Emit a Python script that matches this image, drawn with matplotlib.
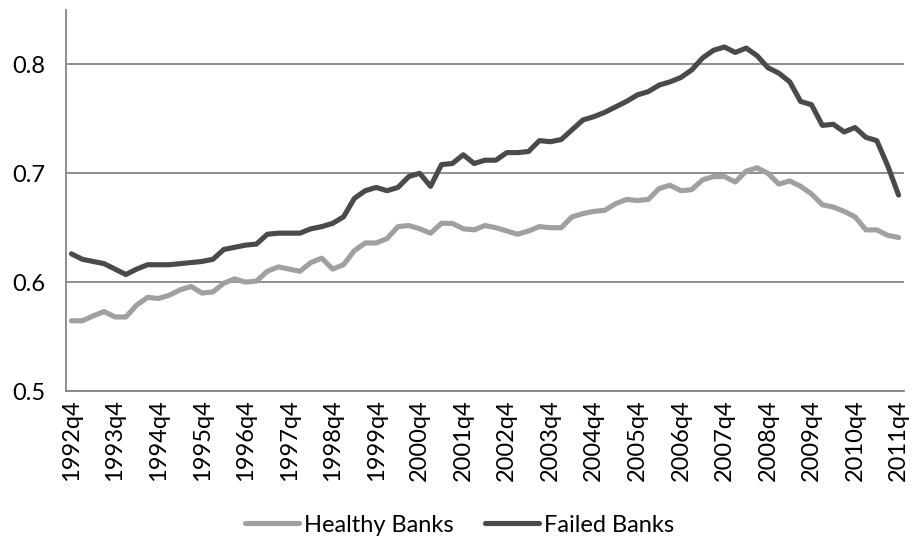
import matplotlib
matplotlib.use("Agg")
import matplotlib.pyplot as plt
import numpy as np

tick_labels = ['1992q4', '1993q4', '1994q4', '1995q4', '1996q4', '1997q4', '1998q4',
               '1999q4', '2000q4', '2001q4', '2002q4', '2003q4', '2004q4', '2005q4',
               '2006q4', '2007q4', '2008q4', '2009q4', '2010q4', '2011q4']

healthy = [0.5645, 0.5645, 0.569, 0.573, 0.568, 0.568, 0.579, 0.586, 0.585, 0.588,
           0.593, 0.596, 0.590, 0.591, 0.599, 0.603, 0.600, 0.601, 0.610, 0.614,
           0.612, 0.610, 0.618, 0.622, 0.612, 0.616, 0.629, 0.636, 0.636, 0.640,
           0.651, 0.652, 0.649, 0.645, 0.654, 0.654, 0.649, 0.648, 0.652, 0.650,
           0.647, 0.644, 0.647, 0.651, 0.650, 0.650, 0.660, 0.663, 0.665, 0.666,
           0.672, 0.676, 0.675, 0.676, 0.686, 0.689, 0.684, 0.685, 0.694, 0.697,
           0.697, 0.692, 0.702, 0.705, 0.700, 0.690, 0.693, 0.688, 0.681, 0.671,
           0.669, 0.665, 0.660, 0.648, 0.648, 0.643, 0.641]

failed = [0.626, 0.621, 0.619, 0.617, 0.612, 0.607, 0.612, 0.616, 0.616, 0.616,
          0.617, 0.618, 0.619, 0.621, 0.630, 0.632, 0.634, 0.635, 0.644, 0.645,
          0.645, 0.645, 0.649, 0.651, 0.654, 0.660, 0.677, 0.684, 0.687, 0.684,
          0.687, 0.697, 0.700, 0.688, 0.708, 0.709, 0.717, 0.709, 0.712, 0.712,
          0.719, 0.719, 0.720, 0.730, 0.729, 0.731, 0.740, 0.749, 0.752, 0.756,
          0.761, 0.766, 0.772, 0.775, 0.781, 0.784, 0.788, 0.795, 0.806, 0.813,
          0.816, 0.811, 0.815, 0.808, 0.797, 0.792, 0.784, 0.766, 0.763, 0.744,
          0.745, 0.738, 0.742, 0.733, 0.730, 0.707, 0.680]

y_ticks = [0.5, 0.6, 0.7, 0.8]

font = ['Lato', 'DejaVu Sans']

fig = plt.figure(figsize=(9.13, 5.42), dpi=100)
ax = fig.add_axes([66 / 913, 1 - 391 / 542, (904 - 66) / 913, (391 - 10) / 542])

x = np.arange(len(healthy))
ax.plot(x, healthy, color='#a0a0a0', lw=3.7, solid_joinstyle='round',
        solid_capstyle='round', label='Healthy Banks', zorder=3)
ax.plot(x, failed, color='#4a4a4a', lw=3.7, solid_joinstyle='round',
        solid_capstyle='round', label='Failed Banks', zorder=3)

ax.set_xlim(-0.5, len(healthy) - 0.5)
ax.set_ylim(0.5, 0.85)
ax.set_yticks(y_ticks)
ax.set_yticklabels([f'{v:.1f}' for v in y_ticks], family=font, fontsize=17)
ax.set_xticks(x[::4])
ax.set_xticklabels(tick_labels, rotation=90, family=font, fontsize=17)
ax.tick_params(axis='both', length=0)
ax.tick_params(axis='y', pad=15)
ax.tick_params(axis='x', pad=6)

ax.grid(axis='y', color='#868686', lw=1.3)
ax.set_axisbelow(True)
for s in ['top', 'right']:
    ax.spines[s].set_visible(False)
for s in ['left', 'bottom']:
    ax.spines[s].set_color('#868686')
    ax.spines[s].set_linewidth(1.3)

fig.legend(loc='center', bbox_to_anchor=(459.5 / 913, 1 - 525 / 542), ncol=2,
           frameon=False, prop={'family': font, 'size': 17}, handlelength=2.3,
           handletextpad=0.2, columnspacing=1.35, borderpad=0)

fig.savefig('out.png', dpi=100)
